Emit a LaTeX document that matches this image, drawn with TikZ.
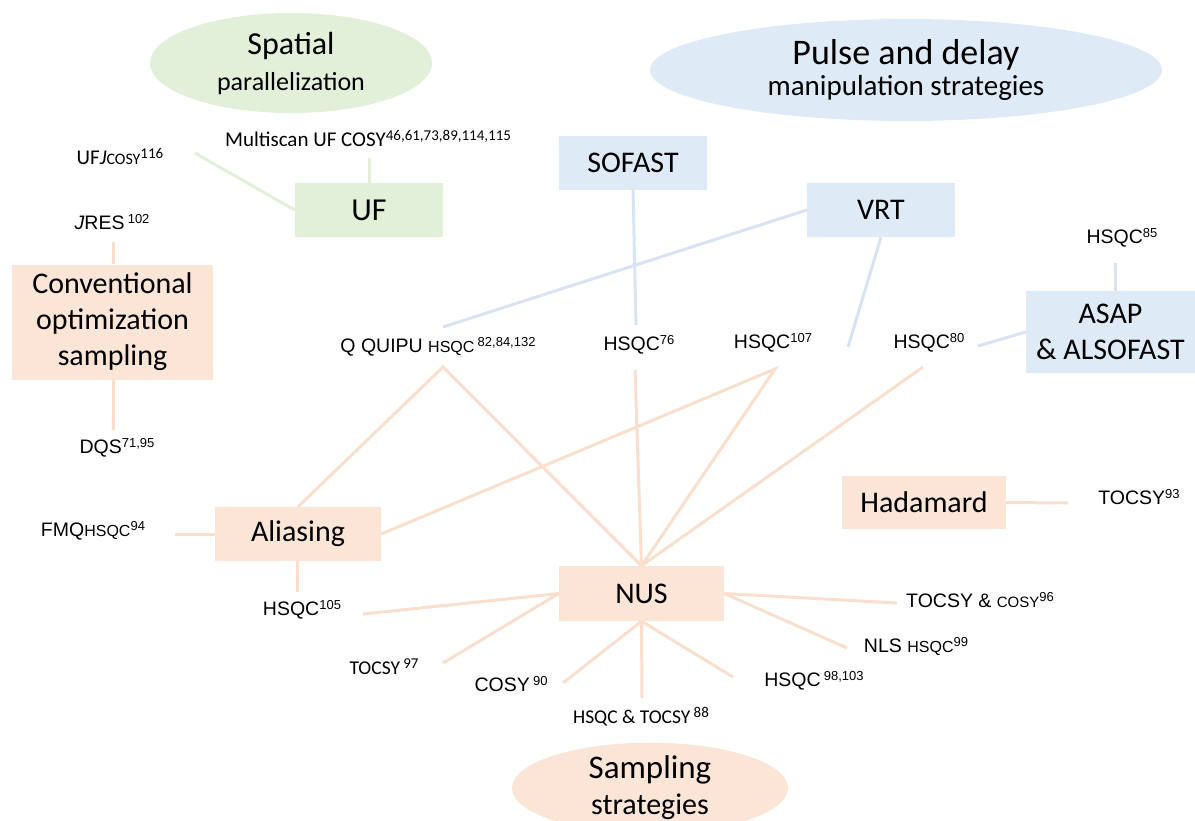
\documentclass[tikz,border=0pt]{standalone}
\usepackage{fontspec}
\setmainfont{Liberation Sans}
\newfontfamily\calfont{Carlito}
\usetikzlibrary{shapes.geometric}
\definecolor{gfill}{HTML}{E2F0D9}
\definecolor{bfill}{HTML}{DEEBF7}
\definecolor{pfill}{HTML}{FBE5D6}
\definecolor{gline}{HTML}{E2F0D9}
\definecolor{bline}{HTML}{D9E3F4}
\definecolor{pline}{HTML}{FADFCD}
\pgfdeclarelayer{bg}
\pgfsetlayers{bg,main}
\newcommand\mysup[1]{\raisebox{6pt}{\fontsize{13}{13}\selectfont #1}}
\newcommand\fsz[1]{\fontsize{#1}{#1}\selectfont}
\begin{document}
\begin{tikzpicture}[x=1pt,y=-1pt,
  lbl/.style={inner sep=0pt, font=\fsz{19.5}},
  box/.style={inner sep=0pt, align=center, font=\calfont\fontsize{30}{36}\selectfont},
  gbox/.style={box, fill=gfill},
  bbox/.style={box, fill=bfill},
  pbox/.style={box, fill=pfill},
  ell/.style={ellipse, inner sep=0pt, align=center},
  gl/.style={draw=gline, line width=3pt},
  bl/.style={draw=bline, line width=3pt},
  pl/.style={draw=pline, line width=3pt}]
\useasboundingbox (0,0) rectangle (1195,820);

% title ellipses
\node[ell, fill=gfill, minimum width=282pt, minimum height=100pt,
      font=\calfont\fontsize{30}{36}\selectfont] (spatial) at (291,63)
  {\fontsize{32}{36}\selectfont Spatial\\\fontsize{26}{36}\selectfont parallelization};
\node[ell, fill=bfill, minimum width=512pt, minimum height=102pt,
      font=\calfont\fontsize{30}{31}\selectfont] (pulse) at (906,70)
  {\fontsize{36}{31}\selectfont Pulse and delay\\\fontsize{29}{31}\selectfont manipulation strategies};
\node[ell, fill=pfill, minimum width=276pt, minimum height=80pt,
      font=\calfont\fontsize{30}{36}\selectfont] (sampling) at (650,788)
  {\fontsize{33}{36}\selectfont Sampling\\\fontsize{30}{36}\selectfont strategies};

% boxes
\node[gbox, minimum width=148pt, minimum height=54pt] (uf) at (369,210) {\fsz{32}UF};
\node[bbox, minimum width=148pt, minimum height=54pt] (sofast) at (633,163) {SOFAST};
\node[bbox, minimum width=148pt, minimum height=54pt] (vrt) at (881,210) {VRT};
\node[bbox, minimum width=169pt, minimum height=82pt] (asap) at (1110.5,332) {ASAP\\\& ALSOFAST};
\node[pbox, minimum width=201pt, minimum height=115pt] (conv) at (112.5,322) {Conventional\\optimization\\sampling};
\node[pbox, minimum width=166pt, minimum height=54pt] (alias) at (298,534) {Aliasing};
\node[pbox, minimum width=165pt, minimum height=55pt] (nus) at (641.5,593.5) {NUS};
\node[pbox, minimum width=164pt, minimum height=53pt] (hada) at (924,502.5) {Hadamard};

% labels
\node[lbl] (lMS) at (368,138) {\calfont\fsz{21}Multiscan UF COSY\raisebox{6pt}{\calfont\fsz{15}46,61,73,89,114,115}};
\node[lbl] (lUFc) at (120,157) {\calfont\fsz{21}UF\textit{J}{\fsz{16}COSY}\raisebox{6pt}{\fsz{15}116}};
\node[lbl] (lJR) at (112,222) {\textit{J}RES\,\mysup{102}};
\node[lbl] (lDQ) at (117,448) {DQS\mysup{71,95}};
\node[lbl] (lFMQ) at (93,531) {FMQ{\fsz{16}HSQC}\mysup{94}};
\node[lbl] (lH105) at (302,610) {HSQC\mysup{105}};
\node[lbl] (lQQ) at (438,347) {Q QUIPU {\fsz{16}HSQC}\,\mysup{82,84,132}};
\node[lbl] (lH76) at (639,345) {HSQC\mysup{76}};
\node[lbl] (lH107) at (773,343) {HSQC\mysup{107}};
\node[lbl] (lH80) at (929,343) {HSQC\mysup{80}};
\node[lbl] (lH85) at (1122,238) {HSQC\mysup{85}};
\node[lbl] (lT93) at (1139,497) {TOCSY\mysup{93}};
\node[lbl] (lTC96) at (980,600) {TOCSY \& {\fsz{15}COSY}\mysup{96}};
\node[lbl] (lNLS) at (916,646) {NLS {\fsz{16}HSQC}\mysup{99}};
\node[lbl] (lH98) at (814,681) {HSQC\,\mysup{98,103}};
\node[lbl] (lHT88) at (641,717) {\calfont\fsz{19.5}HSQC \& TOCSY\,\raisebox{6pt}{\fsz{15}88}};
\node[lbl] (lC90) at (511,684) {COSY\,\mysup{90}};
\node[lbl] (lT97) at (384,667) {\calfont\fsz{19.5}TOCSY\,\raisebox{6pt}{\fsz{15}97}};

% connector end points
\coordinate (cUFc) at (195,153);
\coordinate (cMS) at (369,158);
\coordinate (cS76) at (636,325);
\coordinate (cQQb) at (443,327);
\coordinate (cV2) at (848,347);
\coordinate (cA80) at (978,346);
\coordinate (cA85) at (1115,263);
\coordinate (cJR) at (113,242);
\coordinate (cDQ) at (113,430);
\coordinate (cFMQ) at (175,534);
\coordinate (cH105) at (297,592);
\coordinate (cQQp) at (443,367);
\coordinate (cS76p) at (635,370);
\coordinate (c107) at (775,369);
\coordinate (c80) at (923,367);
\coordinate (cH105b) at (363,614);
\coordinate (cT97) at (443,663);
\coordinate (cC90) at (563,683);
\coordinate (cHT88) at (642,698);
\coordinate (cH98) at (733,677);
\coordinate (cTC96) at (897,603);
\coordinate (cNLS) at (847,648);
\coordinate (cT93) at (1068,503);

\begin{pgfonlayer}{bg}
\draw[gl] (uf.west) -- (cUFc);
\draw[gl] (uf.north) -- (cMS);
\draw[bl] (sofast.south) -- (cS76);
\draw[bl] (vrt.west) -- (cQQb);
\draw[bl] (vrt.south) -- (cV2);
\draw[bl] (asap.west) -- (cA80);
\draw[bl] (cA85) -- (cA85 |- asap.north);
\draw[pl] (conv.north -| cJR) -- (cJR);
\draw[pl] (conv.south -| cDQ) -- (cDQ);
\draw[pl] (alias.west) -- (cFMQ);
\draw[pl] (alias.south -| cH105) -- (cH105);
\draw[pl] (alias.north) -- (cQQp) -- (nus.north);
\draw[pl] (nus.north) -- (cS76p);
\draw[pl] (alias.east) -- (c107) -- (nus.north);
\draw[pl] (nus.north) -- (c80);
\draw[pl] (nus.west) -- (cH105b);
\draw[pl] (nus.west) -- (cT97);
\draw[pl] (nus.south) -- (cC90);
\draw[pl] (nus.south) -- (cHT88);
\draw[pl] (nus.south) -- (cH98);
\draw[pl] (nus.east) -- (cTC96);
\draw[pl] (nus.east) -- (cNLS);
\draw[pl] (hada.east) -- (cT93);
\end{pgfonlayer}
\end{tikzpicture}
\end{document}
